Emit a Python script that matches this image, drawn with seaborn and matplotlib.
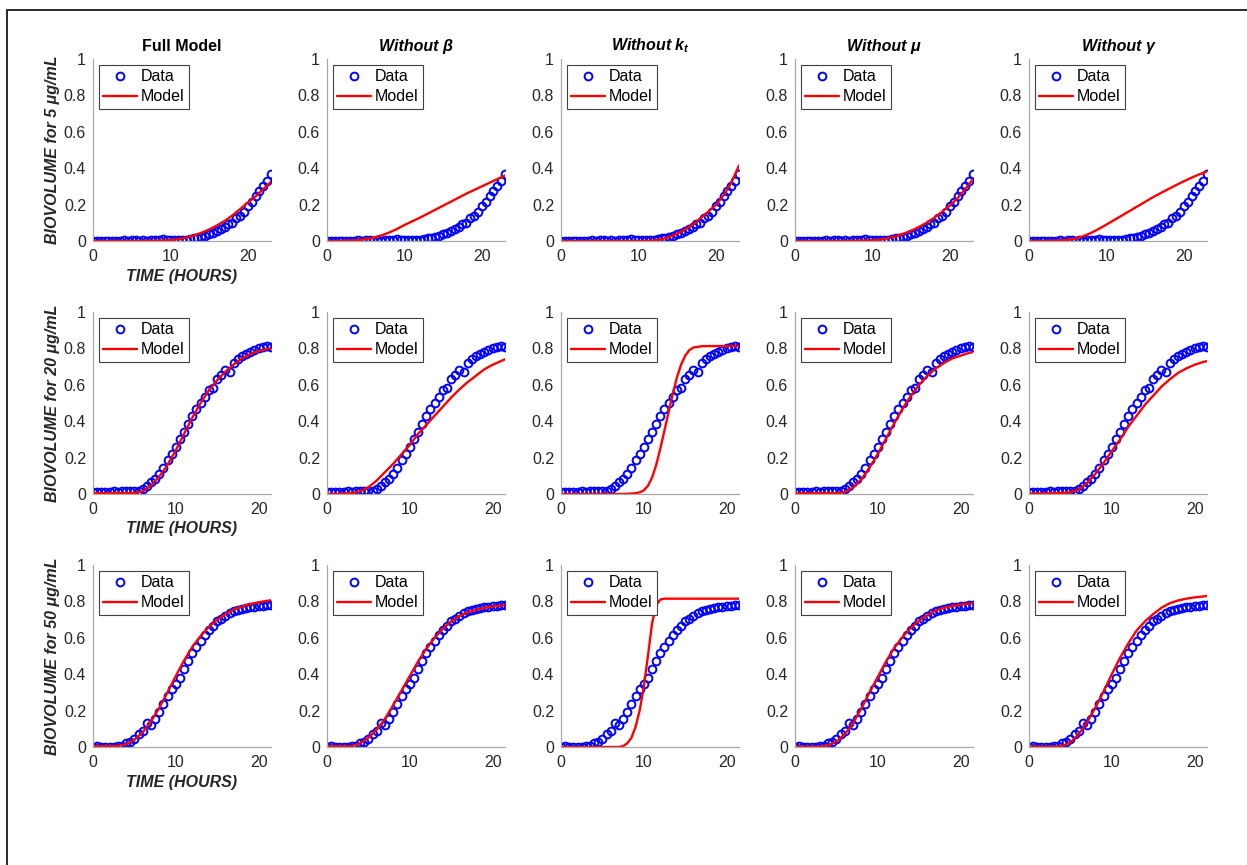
import numpy as np
import pandas as pd
import matplotlib
matplotlib.use("Agg")
import matplotlib.pyplot as plt
from matplotlib.lines import Line2D
import seaborn as sns

# ---------------- data ----------------
col_titles = ["Full Model", "Without β", r"Without $k_t$", "Without μ", "Without γ"]
row_labels = ["BIOVOLUME for 5 μg/mL", "BIOVOLUME for 20 μg/mL", "BIOVOLUME for 50 μg/mL"]
x_label = "TIME (HOURS)"
y_ticks = [0, 0.2, 0.4, 0.6, 0.8, 1]
y_ticklabels = ["0", "0.2", "0.4", "0.6", "0.8", "1"]
x_ticks = [0, 10, 20]

# data sampling times (hours)
t_data_5 = [0, 0.5, 1, 1.5, 2, 2.5, 3, 3.5, 4, 4.5, 5, 5.5, 6, 6.5, 7, 7.5, 8, 8.5, 9, 9.5,
            10, 10.5, 11, 11.5, 12, 12.5, 13, 13.5, 14, 14.5, 15, 15.5, 16, 16.5, 17, 17.5,
            18, 18.5, 19, 19.5, 20, 20.5, 21, 21.5, 22, 22.5, 23]
t_data_20 = [0, 0.5, 1, 1.5, 2, 2.5, 3, 3.5, 4, 4.5, 5, 5.5, 6, 6.5, 7, 7.5, 8, 8.5, 9, 9.5,
             10, 10.5, 11, 11.5, 12, 12.5, 13, 13.5, 14, 14.5, 15, 15.5, 16, 16.5, 17, 17.5,
             18, 18.5, 19, 19.5, 20, 20.5, 21, 21.5]
t_data_50 = list(t_data_20)

data_5 = [0.002, 0.001, 0.002, 0.001, 0.002, 0.002, 0.001, 0.002, 0.003, 0.002,
          0.003, 0.004, 0.002, 0.003, 0.002, 0.003, 0.004, 0.003, 0.012, 0.004,
          0.003, 0.004, 0.004, 0.006, 0.008, 0.011, 0.015, 0.019, 0.024, 0.030,
          0.037, 0.045, 0.055, 0.066, 0.078, 0.092, 0.098, 0.125, 0.140, 0.160,
          0.190, 0.215, 0.250, 0.275, 0.300, 0.330, 0.368]
data_20 = [0.010, 0.012, 0.011, 0.013, 0.012, 0.014, 0.013, 0.015, 0.016, 0.014, 0.015,
           0.018, 0.030, 0.045, 0.065, 0.085, 0.110, 0.145, 0.185, 0.220, 0.260, 0.300,
           0.340, 0.385, 0.430, 0.465, 0.500, 0.535, 0.570, 0.585, 0.630, 0.655, 0.680,
           0.670, 0.720, 0.740, 0.760, 0.770, 0.780, 0.790, 0.800, 0.805, 0.815, 0.810]
data_50 = [0.002, 0.003, 0.002, 0.001, 0.002, 0.002, 0.003, 0.004,
           0.020, 0.025, 0.045, 0.070, 0.090, 0.130, 0.120, 0.155, 0.190, 0.235, 0.280,
           0.320, 0.345, 0.380, 0.430, 0.470, 0.515, 0.550, 0.580, 0.615, 0.645, 0.665,
           0.690, 0.705, 0.720, 0.735, 0.745, 0.755, 0.760, 0.765, 0.770, 0.770, 0.775,
           0.775, 0.780, 0.780]

# model output times (hours)
t_model_5 = [0, 1, 2, 3, 4, 5, 6, 7, 8, 9, 10, 11, 12, 13, 14, 15, 16, 17, 18, 19, 20, 21, 22, 23]
t_model_20 = [0, 1, 2, 3, 4, 5, 6, 7, 8, 9, 10, 11, 12, 13, 14, 15, 16, 17, 18, 19, 20, 21, 21.5]
t_model_50 = list(t_model_20)
t_model_20_kt = [0, 1, 2, 3, 4, 5, 6, 7, 8, 9, 9.5, 10, 10.5, 11, 11.5, 12, 12.5, 13, 13.5,
                 14, 14.5, 15, 15.5, 16, 17, 18, 19, 20, 21, 21.5]
t_model_50_kt = [0, 1, 2, 3, 4, 5, 6, 7, 7.5, 8, 8.5, 9, 9.5, 10, 10.5, 11, 11.5, 12, 12.5,
                 13, 14, 15, 16, 17, 18, 19, 20, 21, 21.5]

# 5 ug/mL models
m5_full = [0, 0, 0, 0, 0, 0, 0, 0.001, 0.002, 0.003, 0.005, 0.010, 0.018, 0.030, 0.045,
           0.063, 0.085, 0.110, 0.140, 0.175, 0.210, 0.245, 0.285, 0.325]
m5_beta = [0, 0, 0.001, 0.002, 0.005, 0.010, 0.018, 0.030, 0.046, 0.065, 0.088, 0.108,
           0.128, 0.150, 0.172, 0.194, 0.216, 0.238, 0.260, 0.280, 0.300, 0.320, 0.340, 0.360]
m5_kt = [0, 0, 0, 0, 0, 0, 0, 0, 0, 0, 0, 0.001, 0.003, 0.010, 0.022, 0.040, 0.062, 0.090,
         0.125, 0.160, 0.198, 0.250, 0.320, 0.415]
m5_mu = [0, 0, 0, 0, 0, 0, 0, 0.001, 0.002, 0.003, 0.004, 0.008, 0.015, 0.025, 0.039,
         0.056, 0.077, 0.100, 0.128, 0.160, 0.195, 0.235, 0.285, 0.340]
m5_gamma = [0, 0, 0, 0.001, 0.003, 0.007, 0.014, 0.026, 0.044, 0.066, 0.090, 0.115, 0.140,
            0.165, 0.190, 0.215, 0.240, 0.263, 0.285, 0.307, 0.328, 0.348, 0.366, 0.382]

# 20 ug/mL models
m20_full = [0.005, 0.005, 0.005, 0.005, 0.005, 0.006, 0.015, 0.045, 0.095, 0.160, 0.240,
            0.330, 0.420, 0.500, 0.570, 0.625, 0.672, 0.712, 0.745, 0.770, 0.785, 0.797, 0.800]
m20_beta = [0, 0.001, 0.002, 0.005, 0.015, 0.037, 0.074, 0.120, 0.166, 0.218, 0.270, 0.330,
            0.380, 0.430, 0.480, 0.530, 0.575, 0.615, 0.650, 0.685, 0.710, 0.730, 0.740]
m20_kt = [0, 0, 0, 0, 0, 0, 0, 0, 0.001, 0.004, 0.009, 0.020, 0.045, 0.090, 0.160, 0.250,
          0.350, 0.450, 0.550, 0.640, 0.710, 0.760, 0.790, 0.805, 0.812, 0.813, 0.813,
          0.813, 0.813, 0.813]
m20_mu = [0.004, 0.004, 0.004, 0.004, 0.004, 0.004, 0.010, 0.035, 0.080, 0.145, 0.220, 0.305,
          0.390, 0.470, 0.540, 0.600, 0.650, 0.690, 0.720, 0.745, 0.760, 0.775, 0.780]
m20_gamma = [0.003, 0.003, 0.003, 0.004, 0.005, 0.010, 0.025, 0.060, 0.110, 0.170, 0.235,
             0.300, 0.370, 0.430, 0.490, 0.540, 0.590, 0.630, 0.665, 0.690, 0.710, 0.725, 0.730]

# 50 ug/mL models
m50_full = [0.005, 0.005, 0.005, 0.006, 0.015, 0.040, 0.080, 0.140, 0.215, 0.300, 0.390,
            0.475, 0.550, 0.610, 0.660, 0.700, 0.730, 0.755, 0.772, 0.785, 0.795, 0.803, 0.806]
m50_beta = [0.004, 0.004, 0.004, 0.004, 0.020, 0.050, 0.095, 0.155, 0.230, 0.310, 0.390,
            0.470, 0.540, 0.600, 0.650, 0.690, 0.720, 0.740, 0.755, 0.765, 0.772, 0.777, 0.780]
m50_kt = [0, 0, 0, 0, 0, 0, 0, 0, 0.005, 0.020, 0.050, 0.110, 0.200, 0.330, 0.500, 0.680,
          0.780, 0.810, 0.815, 0.815, 0.815, 0.815, 0.815, 0.815, 0.815, 0.815, 0.815,
          0.815, 0.815]
m50_mu = [0.002, 0.002, 0.002, 0.002, 0.008, 0.030, 0.070, 0.130, 0.210, 0.300, 0.385,
          0.470, 0.545, 0.605, 0.655, 0.695, 0.725, 0.750, 0.765, 0.775, 0.783, 0.788, 0.790]
m50_gamma = [0.002, 0.002, 0.002, 0.002, 0.005, 0.025, 0.070, 0.135, 0.215, 0.305, 0.400,
             0.490, 0.570, 0.640, 0.690, 0.730, 0.765, 0.790, 0.805, 0.815, 0.822, 0.827, 0.830]

rows = [
    dict(t=t_data_5, y=data_5, xmax=23,
         models=[(t_model_5, m5_full), (t_model_5, m5_beta), (t_model_5, m5_kt),
                 (t_model_5, m5_mu), (t_model_5, m5_gamma)]),
    dict(t=t_data_20, y=data_20, xmax=21.5,
         models=[(t_model_20, m20_full), (t_model_20, m20_beta), (t_model_20_kt, m20_kt),
                 (t_model_20, m20_mu), (t_model_20, m20_gamma)]),
    dict(t=t_data_50, y=data_50, xmax=21.5,
         models=[(t_model_50, m50_full), (t_model_50, m50_beta), (t_model_50_kt, m50_kt),
                 (t_model_50, m50_mu), (t_model_50, m50_gamma)]),
]

# ---------------- style ----------------
sns.set_style("white")
plt.rcParams["font.family"] = ["Liberation Sans", "DejaVu Sans"]
plt.rcParams["mathtext.fontset"] = "custom"
plt.rcParams["mathtext.it"] = "Liberation Sans:italic:bold"
plt.rcParams["mathtext.rm"] = "Liberation Sans:bold"

W, H = 1247, 865
fig = plt.figure(figsize=(W / 100, H / 100), dpi=100)
fig.patch.set_facecolor("white")

# outer frame (top and left edges visible)
fx = 7 / W
fy = 1 - 10 / H
fig.add_artist(Line2D([fx, 1.0], [fy, fy], transform=fig.transFigure, color="#2a2a2a", lw=1.4))
fig.add_artist(Line2D([fx, fx], [0, fy], transform=fig.transFigure, color="#2a2a2a", lw=1.4))

axis_col = "#a8a8a8"
text_col = "#262626"
ax_w, ax_h = 178, 182
lefts = [93 + 234 * j for j in range(5)]
tops = [59, 312, 565]

for i, row in enumerate(rows):
    df = pd.DataFrame({"t": row["t"], "v": row["y"]})
    for j in range(5):
        l = lefts[j]
        tp = tops[i]
        ax = fig.add_axes([l / W, 1 - (tp + ax_h) / H, ax_w / W, ax_h / H])
        sns.lineplot(data=df, x="t", y="v", ax=ax, estimator=None, sort=False,
                     linestyle="", marker="o", markersize=5.6, markerfacecolor="none",
                     markeredgecolor="#0000ff", markeredgewidth=1.4, color="#0000ff",
                     label="Data")
        mt, mv = row["models"][j]
        mdf = pd.DataFrame({"t": mt, "v": mv})
        sns.lineplot(data=mdf, x="t", y="v", ax=ax, estimator=None, sort=False,
                     color="#ff0000", linewidth=1.7, label="Model")
        ax.set_xlim(0, row["xmax"])
        ax.set_ylim(0, 1)
        ax.set_xticks(x_ticks)
        ax.set_yticks(y_ticks)
        ax.set_yticklabels(y_ticklabels)
        ax.set_facecolor("none")
        for s in ["top", "right"]:
            ax.spines[s].set_visible(False)
        for s in ["left", "bottom"]:
            ax.spines[s].set_color(axis_col)
            ax.spines[s].set_linewidth(0.9)
        ax.tick_params(direction="in", length=3, width=0.8, color=axis_col,
                       labelsize=11.5, labelcolor=text_col)
        ax.tick_params(axis="x", pad=6)
        ax.tick_params(axis="y", pad=5)
        if j == 0:
            ax.set_xlabel(x_label, fontsize=11.5, fontweight="bold", fontstyle="italic",
                          color=text_col, labelpad=3)
            ax.set_ylabel(row_labels[i], fontsize=11.5, fontweight="bold", fontstyle="italic",
                          color=text_col, labelpad=3)
        else:
            ax.set_xlabel("")
            ax.set_ylabel("")
        if i == 0:
            ax.set_title(col_titles[j], fontsize=11.5, fontweight="bold",
                         fontstyle=("normal" if j == 0 else "italic"), color="black", pad=6)
        leg = ax.legend(loc="upper left", fontsize=11.5, frameon=True, fancybox=False,
                        framealpha=1, edgecolor="#404040", handlelength=2.1,
                        handletextpad=0.25, borderpad=0.3, labelspacing=0.3,
                        borderaxespad=0.35)
        leg.get_frame().set_linewidth(0.8)
        for txt in leg.get_texts():
            txt.set_color("black")

fig.savefig("out.png", dpi=100, facecolor="white")
